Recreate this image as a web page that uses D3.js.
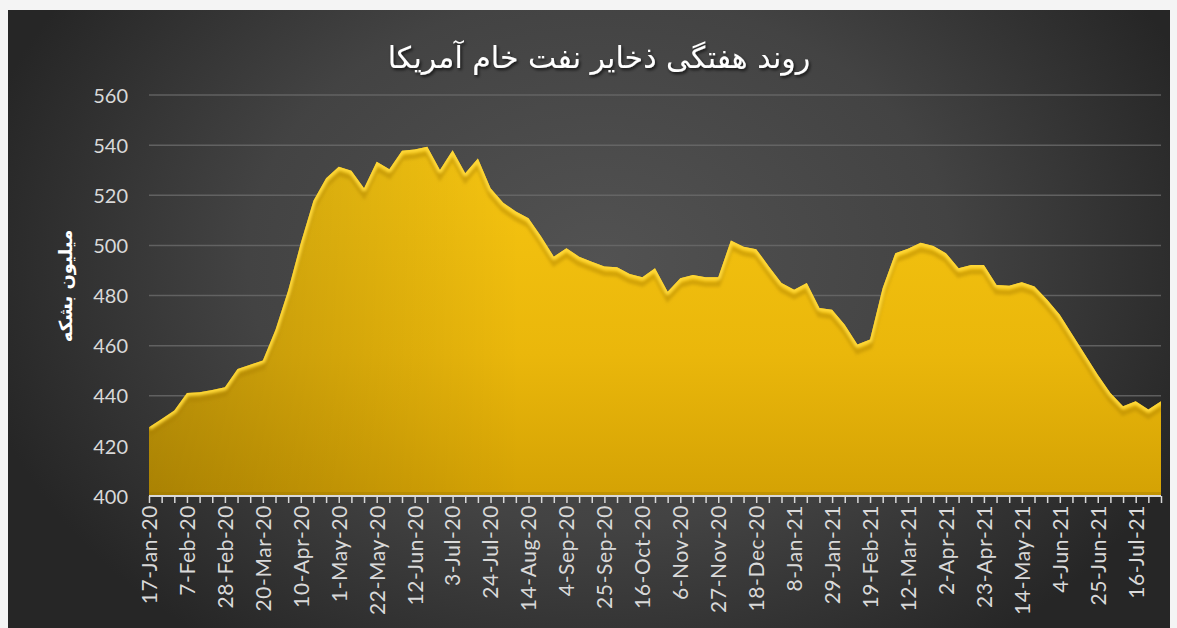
<!DOCTYPE html>
<html>
<head>
<meta charset="utf-8">
<script src="https://cdn.jsdelivr.net/npm/d3@7"></script>
<style>
  html, body { margin: 0; padding: 0; background: #f2f2f2; }
  svg { display: block; }
</style>
</head>
<body>
<svg id="chart" width="1177" height="628"></svg>
<script>
// ---- data ----
const categories = [
  "17-Jan-20","24-Jan-20","31-Jan-20","7-Feb-20","14-Feb-20","21-Feb-20","28-Feb-20",
  "6-Mar-20","13-Mar-20","20-Mar-20","27-Mar-20","3-Apr-20","10-Apr-20","17-Apr-20","24-Apr-20",
  "1-May-20","8-May-20","15-May-20","22-May-20","29-May-20","5-Jun-20","12-Jun-20","19-Jun-20","26-Jun-20",
  "3-Jul-20","10-Jul-20","17-Jul-20","24-Jul-20","31-Jul-20","7-Aug-20","14-Aug-20","21-Aug-20","28-Aug-20",
  "4-Sep-20","11-Sep-20","18-Sep-20","25-Sep-20","2-Oct-20","9-Oct-20","16-Oct-20","23-Oct-20","30-Oct-20",
  "6-Nov-20","13-Nov-20","20-Nov-20","27-Nov-20","4-Dec-20","11-Dec-20","18-Dec-20","25-Dec-20",
  "1-Jan-21","8-Jan-21","15-Jan-21","22-Jan-21","29-Jan-21","5-Feb-21","12-Feb-21","19-Feb-21","26-Feb-21",
  "5-Mar-21","12-Mar-21","19-Mar-21","26-Mar-21","2-Apr-21","9-Apr-21","16-Apr-21","23-Apr-21","30-Apr-21",
  "7-May-21","14-May-21","21-May-21","28-May-21","4-Jun-21","11-Jun-21","18-Jun-21","25-Jun-21",
  "2-Jul-21","9-Jul-21","16-Jul-21","23-Jul-21","30-Jul-21"
];
const stocks = [
  427.4, 430.7, 434.1, 441.1, 441.4, 442.3, 443.4,
  450.7, 452.4, 454.1, 466.3, 482.0, 500.9, 517.8, 526.8,
  531.4, 529.8, 522.8, 533.4, 530.4, 537.8, 538.3, 539.4, 530.1,
  538.0, 528.8, 534.7, 522.8, 517.0, 513.5, 510.8, 503.5, 495.5,
  498.9, 495.5, 493.5, 491.6, 491.3, 488.6, 487.3, 490.9, 481.5,
  486.9, 488.2, 487.3, 487.3, 501.9, 499.5, 498.5, 491.6,
  485.0, 482.3, 485.0, 475.0, 474.3, 468.3, 460.4, 462.4, 483.0,
  496.9, 498.7, 501.0, 499.8, 496.9, 490.9, 492.2, 492.2, 484.2,
  483.9, 485.3, 483.6, 478.3, 472.3, 464.3, 456.4, 448.4,
  441.1, 435.8, 437.8, 434.5, 437.8
];
const yTicks = [400, 420, 440, 460, 480, 500, 520, 540, 560];
const titleText = "روند هفتگی ذخایر نفت خام آمریکا";
const yAxisTitle = "میلیون بشکه";

// ---- layout ----
const W = 1177, H = 628;
const box = {x: 8, y: 10, w: 1162, h: 618};
const plot = {left: 149, right: 1161, top: 95, bottom: 496};

const svg = d3.select("#chart");
const defs = svg.append("defs");

// background gradient
const bg = defs.append("radialGradient").attr("id", "bgGrad")
  .attr("gradientUnits", "userSpaceOnUse")
  .attr("cx", 600).attr("cy", 260).attr("r", 640)
  .attr("gradientTransform", "translate(600,260) scale(1,0.75) translate(-600,-260)");
bg.append("stop").attr("offset", "0%").attr("stop-color", "#525252");
bg.append("stop").attr("offset", "55%").attr("stop-color", "#434343");
bg.append("stop").attr("offset", "100%").attr("stop-color", "#262626");

// area gradients
const ag = defs.append("linearGradient").attr("id", "areaGrad")
  .attr("gradientUnits", "userSpaceOnUse")
  .attr("x1", 0).attr("y1", 140).attr("x2", 0).attr("y2", 496);
ag.append("stop").attr("offset", "0%").attr("stop-color", "#f7c611");
ag.append("stop").attr("offset", "60%").attr("stop-color", "#eab70b");
ag.append("stop").attr("offset", "100%").attr("stop-color", "#d4a204");

const shade = defs.append("linearGradient").attr("id", "shadeGrad")
  .attr("gradientUnits", "userSpaceOnUse")
  .attr("x1", 149).attr("y1", 0).attr("x2", 520).attr("y2", 0);
shade.append("stop").attr("offset", "0%").attr("stop-color", "#000").attr("stop-opacity", 0.2);
shade.append("stop").attr("offset", "100%").attr("stop-color", "#000").attr("stop-opacity", 0);

const f = defs.append("filter").attr("id", "tshadow").attr("x", "-10%").attr("y", "-30%").attr("width", "120%").attr("height", "160%");
f.append("feDropShadow").attr("dx", 1.5).attr("dy", 2).attr("stdDeviation", 1.5).attr("flood-color", "#000").attr("flood-opacity", 0.7);

const blurF = defs.append("filter").attr("id", "bevel").attr("x", "-5%").attr("y", "-5%").attr("width", "110%").attr("height", "110%");
blurF.append("feGaussianBlur").attr("stdDeviation", 1.6);

// page background
svg.append("rect").attr("width", W).attr("height", H).attr("fill", "#f4f4f4");
svg.append("rect").attr("x", box.x).attr("y", box.y).attr("width", box.w).attr("height", box.h)
  .attr("fill", "url(#bgGrad)");

// ---- scales ----
const x = d3.scalePoint().domain(categories).range([plot.left, plot.right]);
const y = d3.scaleLinear().domain([400, 560]).range([plot.bottom, plot.top]);

// gridlines
svg.append("g").selectAll("line").data(yTicks.filter(v => v > 400)).join("line")
  .attr("x1", plot.left).attr("x2", plot.right)
  .attr("y1", d => y(d)).attr("y2", d => y(d))
  .attr("stroke", "#6b6b6b").attr("stroke-width", 1.5).attr("stroke-opacity", 0.8);

// area
const data = categories.map((c, i) => ({c, v: stocks[i]}));
const area = d3.area().x(d => x(d.c)).y0(y(400)).y1(d => y(d.v));
const line = d3.line().x(d => x(d.c)).y(d => y(d.v));

defs.append("clipPath").attr("id", "areaClip").append("path").attr("d", area(data));

svg.append("path").attr("d", area(data)).attr("fill", "url(#areaGrad)");
svg.append("path").attr("d", area(data)).attr("fill", "url(#shadeGrad)");
// bevel: shadow just below the top edge, highlight on the edge
const bevelG = svg.append("g").attr("clip-path", "url(#areaClip)");
bevelG.append("path").attr("d", line(data)).attr("transform", "translate(0,7)")
  .attr("fill", "none").attr("stroke", "#a87c00").attr("stroke-opacity", 0.4)
  .attr("stroke-width", 5).attr("filter", "url(#bevel)");
bevelG.append("path").attr("d", line(data))
  .attr("fill", "none").attr("stroke", "#ffd838").attr("stroke-width", 6)
  .attr("stroke-linejoin", "round").attr("filter", "url(#bevel)");
// bottom rim
bevelG.append("rect").attr("x", plot.left).attr("y", plot.bottom - 4).attr("width", plot.right - plot.left).attr("height", 4)
  .attr("fill", "#9c7600").attr("opacity", 0.35);

// x axis
const xAxis = d3.axisBottom(x).tickValues(categories).tickSize(7).tickPadding(6)
  .tickFormat((d, i) => (i % 3 === 0 ? d : ""));
const gx = svg.append("g").attr("transform", `translate(0,${plot.bottom})`).call(xAxis);
gx.select(".domain").attr("stroke", "#d9d9d9").attr("stroke-width", 2)
  .attr("d", `M${plot.left},0H${plot.right}`);
gx.selectAll(".tick line").attr("stroke", "#d9d9d9").attr("stroke-width", 1.5);
gx.selectAll(".tick text")
  .attr("fill", "#d9d9d9").attr("font-family", "Lato, 'Open Sans', sans-serif").attr("font-size", 21)
  .attr("letter-spacing", "0.6px")
  .attr("text-anchor", "end").attr("dy", "0.35em")
  .attr("transform", "rotate(-90)")
  .attr("x", -9).attr("y", 0);

// y axis
const yAxis = d3.axisLeft(y).tickValues(yTicks).tickSize(0).tickPadding(0);
const gy = svg.append("g").attr("transform", `translate(128,0)`).call(yAxis);
gy.select(".domain").remove();
gy.selectAll(".tick text").attr("fill", "#d9d9d9")
  .attr("font-family", "Lato, 'Open Sans', sans-serif").attr("font-size", 20)
  .attr("x", 0).attr("dy", "0.36em");

// titles
svg.append("text").attr("x", 599).attr("y", 68).attr("text-anchor", "middle")
  .attr("fill", "#ffffff").attr("font-family", "'DejaVu Sans', sans-serif").attr("font-size", 30)
  .attr("filter", "url(#tshadow)").attr("direction", "rtl")
  .text(titleText);

svg.append("text").attr("transform", "translate(72,286) rotate(-90)").attr("text-anchor", "middle")
  .attr("fill", "#ffffff").attr("font-family", "'DejaVu Sans', sans-serif").attr("font-size", 18)
  .attr("font-weight", "bold").attr("direction", "rtl")
  .text(yAxisTitle);
</script>
</body>
</html>
